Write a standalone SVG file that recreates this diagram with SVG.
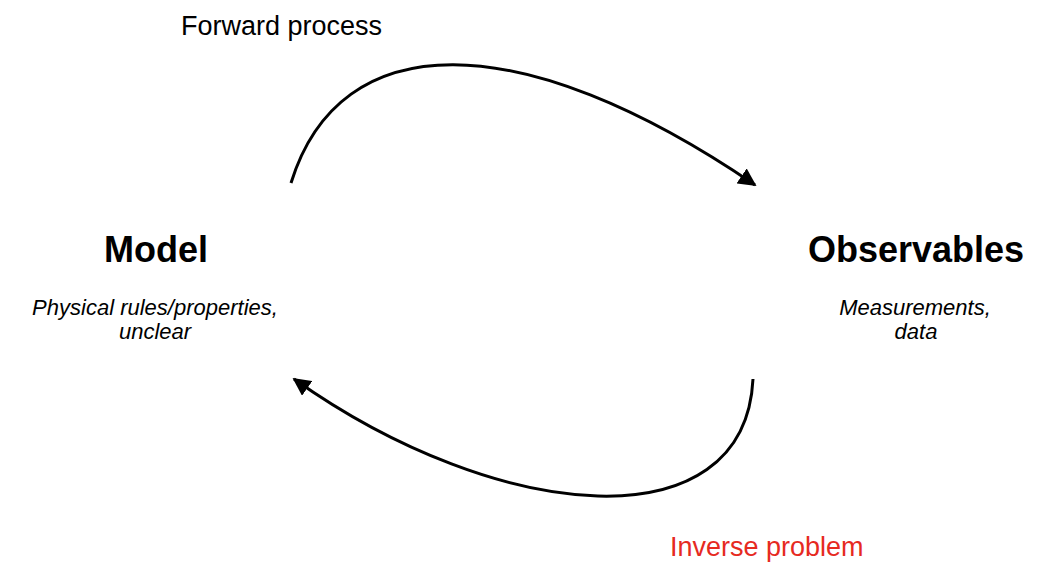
<svg xmlns="http://www.w3.org/2000/svg" width="1061" height="564" viewBox="0 0 1061 564">
<style>
.title{font-family:"Liberation Sans",Arial,sans-serif;font-weight:bold;font-size:36px;fill:#000;text-anchor:middle}
.sub{font-family:"Liberation Sans",Arial,sans-serif;font-style:italic;font-size:22px;fill:#000;text-anchor:middle}
.lbl{font-family:"Liberation Sans",Arial,sans-serif;font-size:27px}
.conn{fill:none;stroke:#000;stroke-width:3}
</style>
<defs>
<marker id="ah" viewBox="0 0 10 10" refX="9" refY="5" markerWidth="6" markerHeight="6" markerUnits="strokeWidth" orient="auto">
<path d="M0,0 L10,5 L0,10 z" fill="#000"/>
</marker>
</defs>
<rect width="1061" height="564" fill="#fff"/>
<g id="connectors">
<path class="conn" d="M291,183 C340,25 520,25 755,185" marker-end="url(#ah)"/>
<path class="conn" d="M753,379 C745,545 500,525 294,379" marker-end="url(#ah)"/>
</g>
<g id="model">
<text class="title" x="156" y="262">Model</text>
<text class="sub" x="155" y="315">Physical rules/properties,</text>
<text class="sub" x="155" y="339">unclear</text>
</g>
<g id="observables">
<text class="title" x="916" y="262">Observables</text>
<text class="sub" x="915" y="315">Measurements,</text>
<text class="sub" x="916" y="339">data</text>
</g>
<g id="labels">
<text class="lbl" x="181" y="35" fill="#000">Forward process</text>
<text class="lbl" x="670" y="556" fill="#e62a1f">Inverse problem</text>
</g>
</svg>
